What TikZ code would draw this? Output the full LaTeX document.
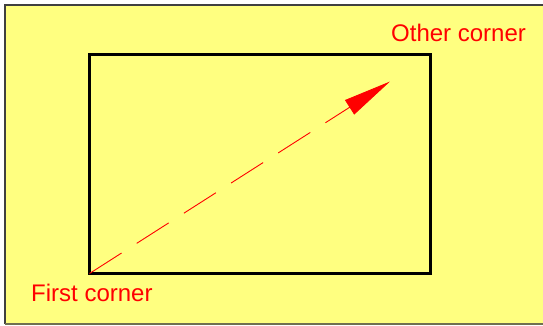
\documentclass[tikz,border=0pt]{standalone}
\usepackage{fontspec}
\setmainfont{Liberation Sans}
\usetikzlibrary{arrows.meta}
\definecolor{bgyellow}{HTML}{FFFF80}
\definecolor{framegray}{HTML}{404040}
\definecolor{framebottom}{HTML}{707050}
\tikzset{
  label text/.style={text=red, font=\fontsize{24}{28}\selectfont, inner sep=0pt, anchor=base west},
  box/.style={draw=black, line width=3.5pt},
  drag arrow/.style={draw=red, line width=0.9pt, dash pattern=on 38pt off 18pt,
    -{Triangle[length=48pt, width=17pt, fill=red]}}
}
\begin{document}
\begin{tikzpicture}[x=1pt,y=-1pt]
\useasboundingbox (0,0) rectangle (543,325);
\fill[white] (0,0) rectangle (543,325);
\fill[bgyellow] (5,5) rectangle (543,324);
\draw[framegray, line width=2pt] (5,324) -- (5,5) -- (543,5);
\draw[framebottom, line width=1.5pt] (5,324) -- (543,324);
\coordinate (fc) at (89.5,273.5);
\coordinate (oc) at (430.5,54.5);
\coordinate (tip) at (390,81.5);
\draw[box] (fc) rectangle (oc);
\draw[drag arrow] (fc) -- (tip);
\node[label text] (first) at (31,301) {First corner};
\node[label text] (other) at (391,41) {Other corner};
\end{tikzpicture}
\end{document}
